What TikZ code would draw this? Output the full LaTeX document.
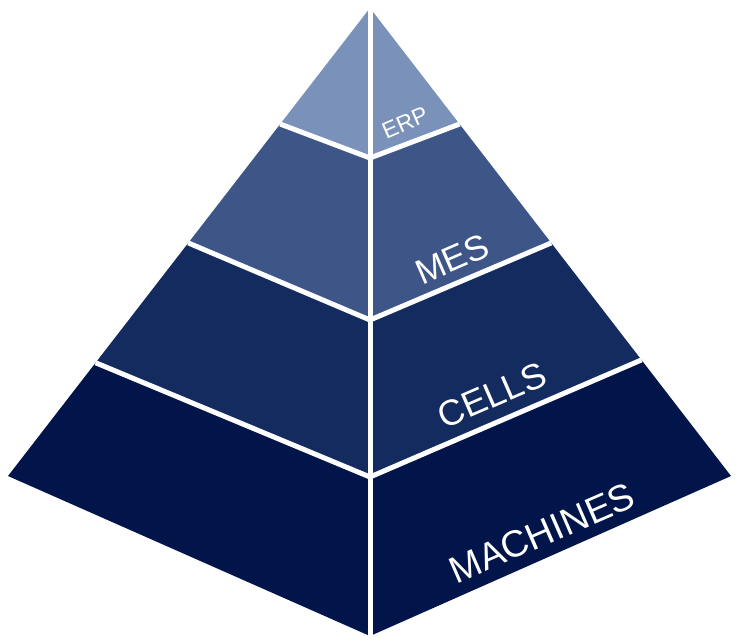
\documentclass[tikz,border=0pt]{standalone}
\usepackage{fontspec}
\setmainfont{Liberation Sans}
\usetikzlibrary{calc}
\definecolor{erpc}{HTML}{7A92BA}
\definecolor{mesc}{HTML}{3E5687}
\definecolor{cellc}{HTML}{142B5F}
\definecolor{machc}{HTML}{01154A}
\tikzset{
  gap/.style={draw=white, line width=5pt},
  lbl/.style={text=white, rotate=23.5, inner sep=0pt, anchor=center},
}
\begin{document}
\begin{tikzpicture}[x=1pt,y=-1pt]
\useasboundingbox (0,0) rectangle (739,642);
\coordinate (A) at (370,8);
\coordinate (L0) at (8,476);
\coordinate (R0) at (731,476);
\coordinate (B) at (370,636);
\coordinate (L1) at ($(A)!0.248!(L0)$);
\coordinate (R1) at ($(A)!0.248!(R0)$);
\coordinate (C1) at (370,158);
\coordinate (L2) at ($(A)!0.502!(L0)$);
\coordinate (R2) at ($(A)!0.502!(R0)$);
\coordinate (C2) at (370,320);
\coordinate (L3) at ($(A)!0.758!(L0)$);
\coordinate (R3) at ($(A)!0.752!(R0)$);
\coordinate (C3) at (370,477);
% bands
\fill[erpc] (A) -- (L1) -- (C1) -- (R1) -- cycle;
\fill[mesc] (L1) -- (L2) -- (C2) -- (R2) -- (R1) -- (C1) -- cycle;
\fill[cellc] (L2) -- (L3) -- (C3) -- (R3) -- (R2) -- (C2) -- cycle;
\fill[machc] (L3) -- (L0) -- (B) -- (R0) -- (R3) -- (C3) -- cycle;
% white separations
\draw[gap] (L1) -- (C1) -- (R1);
\draw[gap] (L2) -- (C2) -- (R2);
\draw[gap] (L3) -- (C3) -- (R3);
\draw[gap] (A) -- (B);
% labels
\node[lbl, font=\fontsize{23}{23}\selectfont] (erp) at (405,123) {ERP};
\node[lbl, font=\fontsize{35}{35}\selectfont] (mes) at (452,259) {MES};
\node[lbl, font=\fontsize{36}{36}\selectfont] (cells) at (492,395) {CELLS};
\node[lbl, font=\fontsize{37.5}{37.5}\selectfont] (mach) at (542,533) {MACHINES};
\end{tikzpicture}
\end{document}
